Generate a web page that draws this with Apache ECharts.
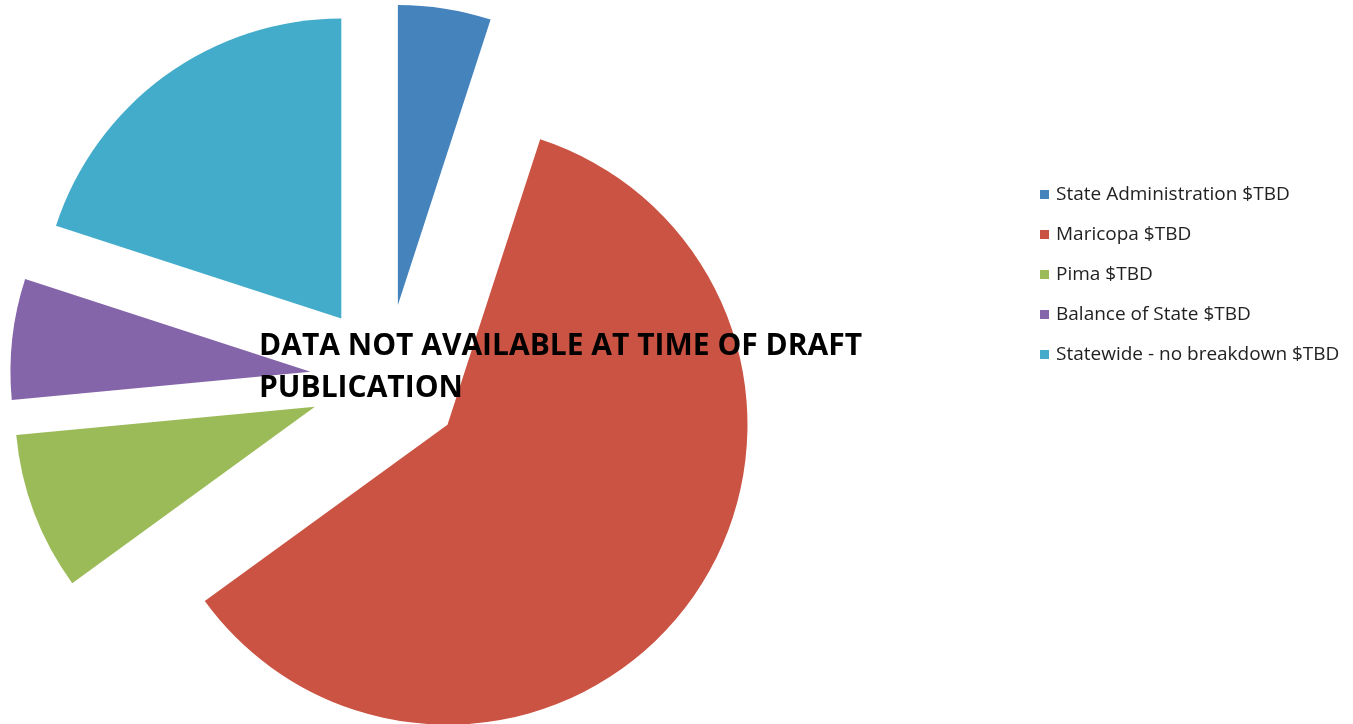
<!DOCTYPE html>
<html><head><meta charset="utf-8">
<script src="https://cdn.jsdelivr.net/npm/echarts@6/dist/echarts.min.js"></script>
<style>html,body{margin:0;padding:0;background:#fff}#c{width:1353px;height:724px}</style>
</head><body><div id="c"></div>
<script>
const categories = ['State Administration $TBD','Maricopa $TBD','Pima $TBD','Balance of State $TBD','Statewide - no breakdown $TBD'];
const values = [5, 60, 8.5, 6.5, 20];
const colors = ['#4583BC','#CB5343','#9BBB59','#8565A9','#44ACCB'];
const overlayLines = ['DATA NOT AVAILABLE AT TIME OF DRAFT','PUBLICATION'];

const chart = echarts.init(document.getElementById('c'));
chart.setOption({
  animation: false,
  color: colors,
  legend: {
    orient: 'vertical', left: 1035, top: 180,
    icon: 'rect', itemWidth: 9, itemHeight: 9, itemGap: 21,
    textStyle: { fontFamily: 'Open Sans', fontSize: 19, color: '#222', padding: [0, 0, 0, 2] },
    selectedMode: false
  },
  series: [{
    type: 'pie',
    center: [386, 380], radius: 300,
    startAngle: 90, clockwise: true,
    selectedMode: 'multiple', selectedOffset: 76,
    label: { show: false }, labelLine: { show: false },
    emphasis: { disabled: true }, silent: true,
    itemStyle: { borderWidth: 0 },
    data: categories.map((n, i) => ({ name: n, value: values[i], selected: true }))
  }],
  graphic: overlayLines.map((t, i) => ({
    type: 'text', left: 259, top: 331 + i * 42, z: 100,
    style: { text: t, fontFamily: 'Open Sans', fontWeight: 'bold', fontSize: 30, fill: '#000' }
  }))
});
</script></body></html>
